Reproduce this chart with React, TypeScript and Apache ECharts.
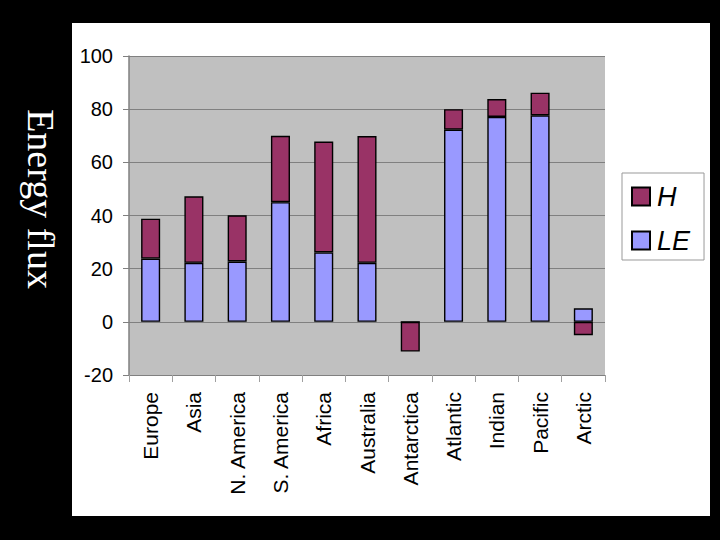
import React, { useEffect, useRef } from "react";
import * as echarts from "echarts";

const categories = [
  "Europe",
  "Asia",
  "N. America",
  "S. America",
  "Africa",
  "Australia",
  "Antarctica",
  "Atlantic",
  "Indian",
  "Pacific",
  "Arctic",
];
const leValues = [23.8, 22.2, 22.7, 45, 26.1, 22.2, 0, 72.3, 77.1, 77.7, 5.1];
const hValues = [15, 25, 17.4, 25, 41.7, 47.7, -11.2, 7.7, 6.7, 8.5, -5];
const yTicks = { min: -20, max: 100, interval: 20 };
const axisTitle = "Energy flux";

export default function App() {
  const ref = useRef<HTMLDivElement>(null);
  useEffect(() => {
    if (!ref.current) return;
    const chart = echarts.init(ref.current, null, { renderer: "svg" });
    const font = "Liberation Sans, Arial, sans-serif";
    chart.setOption({
      animation: false,
      backgroundColor: "transparent",
      grid: {
        left: 129,
        top: 56,
        width: 476,
        height: 319,
        show: true,
        backgroundColor: "#C0C0C0",
        borderWidth: 0,
      },
      legend: {
        data: ["H", "LE"],
        orient: "vertical",
        left: 622,
        top: 173,
        itemWidth: 18,
        itemHeight: 18,
        itemGap: 17,
        padding: [10, 14, 6, 9],
        backgroundColor: "#ffffff",
        borderColor: "#999999",
        borderWidth: 1,
        borderRadius: 0,
        icon: "rect",
        textStyle: {
          fontFamily: font,
          fontSize: 27,
          fontStyle: "italic",
          color: "#000",
          padding: [0, 0, 0, 2],
        },
      },
      xAxis: {
        type: "category",
        data: categories,
        axisLine: { show: true, onZero: false, lineStyle: { color: "#808080", width: 1 } },
        axisTick: { show: true, length: 7, lineStyle: { color: "#a0a0a0" } },
        axisLabel: {
          rotate: 90,
          interval: 0,
          margin: 17,
          fontFamily: font,
          fontSize: 21,
          color: "#000",
        },
        splitLine: { show: false },
      },
      yAxis: {
        type: "value",
        min: yTicks.min,
        max: yTicks.max,
        interval: yTicks.interval,
        axisLine: { show: true, lineStyle: { color: "#808080", width: 1.5 } },
        axisTick: { show: true, length: 6, lineStyle: { color: "#808080" } },
        axisLabel: {
          margin: 16,
          fontFamily: font,
          fontSize: 20,
          color: "#000",
        },
        splitLine: { show: true, lineStyle: { color: "#808080", width: 1 } },
      },
      series: [
        {
          name: "LE",
          type: "bar",
          stack: "flux",
          data: leValues,
          barWidth: "44%",
          itemStyle: { color: "#9999FF", borderColor: "#000", borderWidth: 1.4 },
        },
        {
          name: "H",
          type: "bar",
          stack: "flux",
          data: hValues,
          barWidth: "44%",
          itemStyle: { color: "#993366", borderColor: "#000", borderWidth: 1.4 },
        },
      ],
      graphic: [
        {
          type: "text",
          x: 41,
          y: 199,
          rotation: -Math.PI / 2,
          style: {
            text: axisTitle,
            fill: "#ffffff",
            fontFamily: "Liberation Serif, Times New Roman, serif",
            fontSize: 38,
            align: "center",
            verticalAlign: "middle",
          },
        },
      ],
    });
    return () => chart.dispose();
  }, []);
  return (
    <div style={{ position: "fixed", left: 0, top: 0, width: 720, height: 540, background: "#000" }}>
      <div style={{ position: "absolute", left: 72, top: 23, width: 638, height: 493, background: "#fff" }} />
      <div ref={ref} style={{ position: "absolute", left: 0, top: 0, width: 720, height: 540 }} />
    </div>
  );
}
